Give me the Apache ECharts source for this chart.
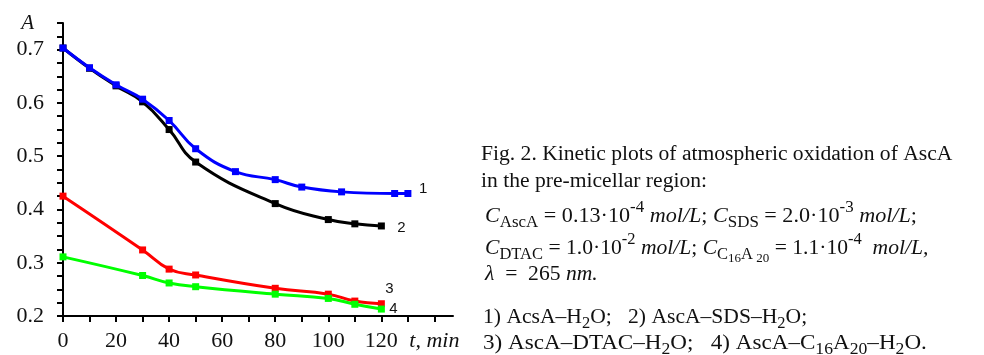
<!DOCTYPE html>
<html>
<head>
<meta charset="utf-8">
<script src="https://cdn.jsdelivr.net/npm/echarts@6/dist/echarts.min.js"></script>
<style>
    html, body { margin: 0; padding: 0; background: #fff; }
    #chart { width: 984px; height: 355px; }
</style>
</head>
<body>
<div id="chart"></div>
<script>
// ---- data (t in min, A = absorbance) ----
const t1 = [0, 10, 20, 30, 40, 50, 65, 80, 90, 105, 125, 130];
const a1 = [0.703, 0.666, 0.634, 0.607, 0.567, 0.514, 0.471, 0.456, 0.442, 0.433, 0.430, 0.430];

const t2 = [0, 10, 20, 30, 40, 50, 80, 100, 110, 120];
const a2 = [0.703, 0.665, 0.632, 0.602, 0.550, 0.489, 0.411, 0.381, 0.373, 0.369];

const t3 = [0, 30, 40, 50, 80, 100, 110, 120];
const a3 = [0.425, 0.324, 0.288, 0.277, 0.252, 0.241, 0.228, 0.223];

const t4 = [0, 30, 40, 50, 80, 100, 110, 120];
const a4 = [0.311, 0.276, 0.262, 0.255, 0.241, 0.233, 0.222, 0.213];

const curveNames = ['1', '2', '3', '4'];

// axis ticks / labels
const xTicks = [0, 10, 20, 30, 40, 50, 60, 70, 80, 90, 100, 110, 120, 130, 140];
const xLabels = [0, 20, 40, 60, 80, 100, 120, 140];
const yTicks = [0.2, 0.225, 0.25, 0.275, 0.3, 0.325, 0.35, 0.375, 0.4, 0.425, 0.45, 0.475,
    0.5, 0.525, 0.55, 0.575, 0.6, 0.625, 0.65, 0.675, 0.7, 0.725, 0.75];
const yLabels = [0.2, 0.3, 0.4, 0.5, 0.6, 0.7, 0.75];

const SERIF = '"Liberation Serif", "Times New Roman", serif';
const SANS = '"Liberation Sans", Arial, sans-serif';

function pairs(t, a) {
    return t.map((v, i) => [v, a[i]]);
}

function curve(name, t, a, color, off, z) {
    return {
        name: name,
        type: 'line',
        data: pairs(t, a),
        smooth: 0.45,
        symbol: 'rect',
        symbolSize: 7,
        showAllSymbol: true,
        z: z,
        lineStyle: { color: color, width: 3 },
        itemStyle: { color: color },
        endLabel: {
            show: true,
            formatter: name,
            distance: 0,
            offset: off,
            color: '#111',
            fontFamily: SANS,
            fontSize: 15
        }
    };
}

// caption on the right, rich text tokens
const rich = {
    i: { fontFamily: SERIF, fontSize: 21.6, fontStyle: 'italic' },
    sub: { fontFamily: SERIF, fontSize: 16.5, verticalAlign: 'top', padding: [15, 0, 0, 0] },
    sup: { fontFamily: SERIF, fontSize: 16.5, verticalAlign: 'top', padding: [0, 0, 0, 0] },
    subsub: { fontFamily: SERIF, fontSize: 13, verticalAlign: 'top', padding: [21, 0, 0, 0] }
};

// [x, y, horizontal stretch, text]
const captionLines = [
    [481, 137, 1, 'Fig. 2. Kinetic plots of atmospheric oxidation of AscA'],
    [481, 164, 1, 'in the pre-micellar region:'],
    [485, 199, 1.025, '{i|C}{sub|AscA} = 0.13·10{sup|-4} {i|mol/L}; {i|C}{sub|SDS} = 2.0·10{sup|-3} {i|mol/L};'],
    [485, 231, 1, '{i|C}{sub|DTAC} = 1.0·10{sup|-2} {i|mol/L}; {i|C}{sub|C}{subsub|16}{sub|A}{subsub| 20} = 1.1·10{sup|-4}  {i|mol/L,}'],
    [485, 257, 1, '{i|λ}  =  265 {i|nm.}'],
    [483, 300, 1, '1) AcsA–H{sub|2}O;   2) AscA–SDS–H{sub|2}O;'],
    [483, 326, 1.07, '3) AscA–DTAC–H{sub|2}O;   4) AscA–C{sub|16}A{sub|20}–H{sub|2}O.']
];

const chart = echarts.init(document.getElementById('chart'), null, { renderer: 'canvas' });

chart.setOption({
    backgroundColor: '#fff',
    animation: false,
    grid: { left: 63, right: 531, top: 23, bottom: 39, outerBoundsMode: 'none' },
    xAxis: {
        type: 'value',
        min: 0,
        max: 147,
        axisLine: { show: true, onZero: false, lineStyle: { color: '#000', width: 2 } },
        axisTick: { show: true, inside: false, length: 6, lineStyle: { color: '#000', width: 2 }, customValues: xTicks },
        axisLabel: {
            customValues: xLabels,
            margin: 14,
            color: '#111',
            fontFamily: SERIF,
            fontSize: 22,
            formatter: (v) => (v === 140 ? '{i|t, min}' : String(v)),
            rich: { i: { fontFamily: SERIF, fontSize: 22, fontStyle: 'italic', color: '#111' } }
        },
        splitLine: { show: false }
    },
    yAxis: {
        type: 'value',
        min: 0.2,
        max: 0.75,
        axisLine: { show: true, onZero: false, lineStyle: { color: '#000', width: 2 } },
        axisTick: { show: true, inside: false, length: 6, lineStyle: { color: '#000', width: 2 }, customValues: yTicks },
        axisLabel: {
            customValues: yLabels,
            margin: 19,
            color: '#111',
            fontFamily: SERIF,
            fontSize: 22,
            formatter: (v) => (v > 0.74 ? '{a|A}' : v.toFixed(1)),
            rich: { a: { fontFamily: SERIF, fontSize: 21, fontStyle: 'italic', color: '#111', padding: [0, 10, 0, 0] } }
        },
        splitLine: { show: false }
    },
    series: [
        curve(curveNames[1], t2, a2, '#000000', [16, 2], 2),
        curve(curveNames[0], t1, a1, '#0000ff', [11, -5], 3),
        curve(curveNames[2], t3, a3, '#ff0000', [4, -15], 4),
        curve(curveNames[3], t4, a4, '#00ff00', [8, 0], 5)
    ],
    graphic: captionLines.map(([x, y, sx, text]) => ({
        type: 'text',
        x: x,
        y: y,
        scaleX: sx,
        silent: true,
        style: {
            text: text,
            fill: '#111',
            fontFamily: SERIF,
            fontSize: 21.6,
            lineHeight: 34,
            verticalAlign: 'top',
            rich: rich
        }
    }))
});
</script>
</body>
</html>
